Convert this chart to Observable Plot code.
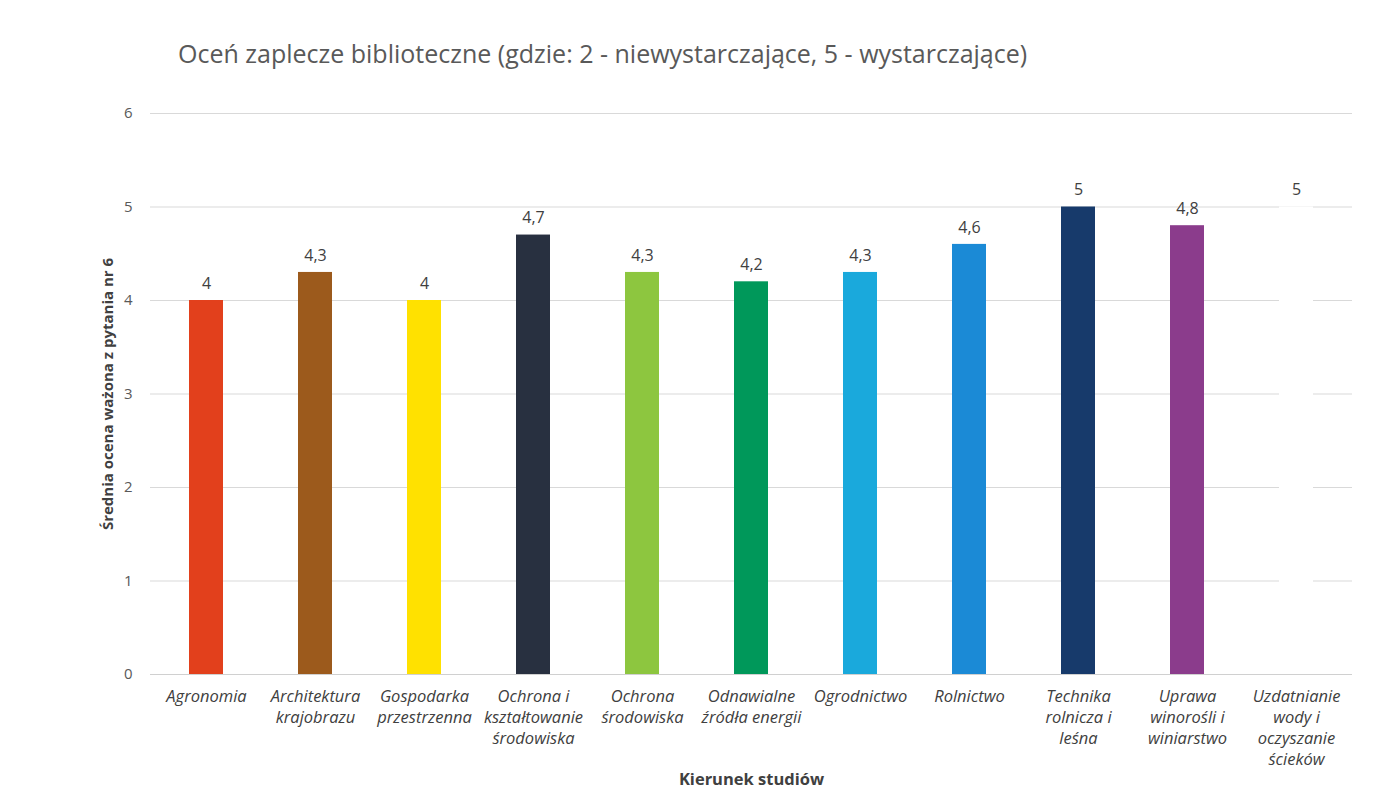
<!DOCTYPE html>
<html>
<head>
<meta charset="utf-8">
<script src="https://cdn.jsdelivr.net/npm/d3@7"></script>
<script src="https://cdn.jsdelivr.net/npm/@observablehq/plot@0.6"></script>
<style>
  body { margin: 0; background: #fff; font-family: "Open Sans", sans-serif; }
  #title { height: 100px; box-sizing: border-box; padding: 36px 0 0 178px; font-size: 25px; color: #595959; line-height: 34px; white-space: nowrap; }
</style>
</head>
<body>
<div id="title">Oceń zaplecze biblioteczne (gdzie: 2 - niewystarczające, 5 - wystarczające)</div>
<div id="chart"></div>
<script>
const categories = [
  "Agronomia",
  "Architektura\nkrajobrazu",
  "Gospodarka\nprzestrzenna",
  "Ochrona i\nkształtowanie\nśrodowiska",
  "Ochrona\nśrodowiska",
  "Odnawialne\nźródła energii",
  "Ogrodnictwo",
  "Rolnictwo",
  "Technika\nrolnicza i\nleśna",
  "Uprawa\nwinorośli i\nwiniarstwo",
  "Uzdatnianie\nwody i\noczyszanie\nścieków"
];
const values = [4, 4.3, 4, 4.7, 4.3, 4.2, 4.3, 4.6, 5, 4.8, 5];
const colors = ["#e2401c", "#9c5a1c", "#ffe100", "#283040", "#8dc63f", "#00985a", "#1aa9dc", "#1b8ad6", "#173a6b", "#8b3c8c", "#ffffff"];
const yTicks = [0, 1, 2, 3, 4, 5, 6];

const data = categories.map((c, i) => ({cat: c, value: values[i], color: colors[i]}));
const fmt = v => String(v).replace(".", ",");

const chart = Plot.plot({
  width: 1379,
  height: 710,
  marginTop: 13,
  marginBottom: 136,
  marginLeft: 150,
  marginRight: 27,
  style: {fontFamily: "Open Sans, sans-serif", fontSize: "14px", color: "#595959", background: "#fff"},
  x: {domain: categories, paddingInner: 0.69, paddingOuter: 0.345, label: null},
  y: {domain: [0, 6], label: null},
  marks: [
    Plot.gridY(yTicks, {stroke: "#d9d9d9", strokeOpacity: 1}),
    Plot.barY(data, {x: "cat", y: "value", fill: "color"}),
    Plot.text(data, {x: "cat", y: "value", text: d => fmt(d.value), dy: -17, fill: "#404040", fontSize: 16}),
    Plot.axisY(yTicks, {tickSize: 0, tickPadding: 18, fontSize: 15, fill: "#595959", tickFormat: d => String(d),
      label: "Średnia ocena ważona z pytania nr 6", labelAnchor: "center", labelOffset: 48}),
    Plot.axisX({tickSize: 0, tickPadding: 13, fontSize: 16.5, fontStyle: "italic", fill: "#404040", lineHeight: 1.27,
      label: "Kierunek studiów", labelAnchor: "center", labelOffset: 110}),
    Plot.ruleY([0], {stroke: "#d0d0d0"})
  ]
});
document.getElementById("chart").appendChild(chart);
// style axis labels bold, remove arrows
chart.querySelectorAll("g[aria-label='y-axis label'] text, g[aria-label='x-axis label'] text").forEach(t => {
  t.setAttribute("font-weight", "bold");
  t.setAttribute("font-style", "normal");
  t.setAttribute("fill", "#404040");
  t.textContent = t.textContent.replace(/\s*[↑→]\s*/g, "").trim();
});
chart.querySelectorAll("g[aria-label='y-axis label'] text").forEach(t => t.setAttribute("font-size", "15"));
chart.querySelectorAll("g[aria-label='x-axis label'] text").forEach(t => t.setAttribute("font-size", "16.5"));
</script>
</body>
</html>
